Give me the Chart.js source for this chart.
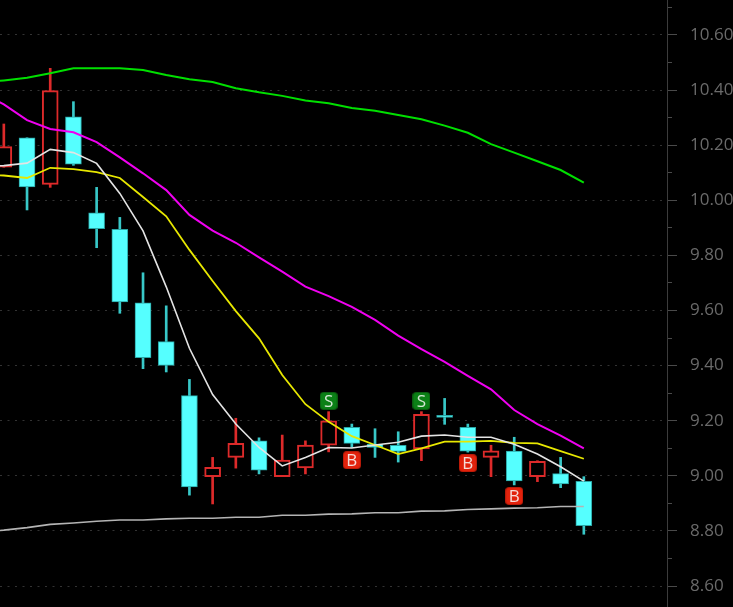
<!DOCTYPE html>
<html>
<head>
<meta charset="utf-8">
<title>Candlestick chart</title>
<script src="https://cdn.jsdelivr.net/npm/chart.js@4"></script>
<style>
  html, body { margin: 0; padding: 0; background: #000; overflow: hidden; }
  #wrap { position: relative; width: 733px; height: 607px; }
</style>
</head>
<body>
<div id="wrap"><canvas id="priceChart"></canvas></div>
<script>
// Candles, oldest first. The first one is cut off by the left edge.
const opens  = [10.12, 10.227, 10.058, 10.303, 9.955, 9.895, 9.628, 9.487, 9.291, 8.997, 9.067, 9.127, 8.997, 9.029, 9.111, 9.176, 9.115, 9.111, 9.098, 9.22, 9.176, 9.067, 9.09, 8.997, 9.008, 8.98];
const closes = [10.195, 10.049, 10.398, 10.131, 9.897, 9.631, 9.429, 9.401, 8.96, 9.031, 9.118, 9.021, 9.057, 9.112, 9.2, 9.118, 9.103, 9.089, 9.223, 9.212, 9.09, 9.091, 8.982, 9.053, 8.971, 8.819];
const highs  = [10.277, 10.227, 10.479, 10.358, 10.047, 9.938, 9.737, 9.617, 9.35, 9.067, 9.209, 9.138, 9.148, 9.127, 9.233, 9.188, 9.171, 9.16, 9.233, 9.281, 9.188, 9.111, 9.14, 9.055, 9.067, 8.997];
const lows   = [10.12, 9.965, 10.047, 10.127, 9.828, 9.59, 9.389, 9.377, 8.93, 8.898, 9.028, 9.007, 8.997, 9.007, 9.087, 9.103, 9.067, 9.05, 9.055, 9.187, 9.086, 8.997, 8.967, 8.979, 8.957, 8.788];

// Moving averages, starting one bar before the first candle (off screen)
const maWhite   = [10.121, 10.126, 10.135, 10.185, 10.173, 10.134, 10.025, 9.889, 9.686, 9.463, 9.295, 9.188, 9.103, 9.036, 9.067, 9.103, 9.101, 9.112, 9.122, 9.144, 9.148, 9.14, 9.14, 9.115, 9.079, 9.033, 8.981];
const maYellow  = [10.095, 10.09, 10.081, 10.118, 10.113, 10.102, 10.081, 10.012, 9.942, 9.82, 9.707, 9.598, 9.499, 9.366, 9.26, 9.196, 9.144, 9.112, 9.079, 9.1, 9.124, 9.124, 9.127, 9.12, 9.118, 9.09, 9.062];
const maMagenta = [10.393, 10.348, 10.291, 10.259, 10.247, 10.211, 10.156, 10.098, 10.037, 9.947, 9.89, 9.846, 9.793, 9.741, 9.687, 9.652, 9.613, 9.566, 9.509, 9.46, 9.414, 9.363, 9.314, 9.239, 9.188, 9.146, 9.1];
const maGreen   = [10.426, 10.435, 10.445, 10.461, 10.479, 10.479, 10.479, 10.473, 10.455, 10.439, 10.429, 10.407, 10.392, 10.379, 10.362, 10.352, 10.335, 10.325, 10.31, 10.294, 10.271, 10.245, 10.204, 10.173, 10.142, 10.11, 10.064];
const maGrey    = [8.796, 8.803, 8.812, 8.824, 8.829, 8.835, 8.84, 8.84, 8.844, 8.846, 8.846, 8.85, 8.85, 8.857, 8.857, 8.861, 8.862, 8.866, 8.866, 8.872, 8.873, 8.878, 8.88, 8.883, 8.884, 8.889, 8.889];

// Buy / sell flags
const sellBars   = [14, 18];
const sellPrices = [9.272, 9.272];
const buyBars    = [15, 20, 22];
const buyPrices  = [9.057, 9.046, 8.927];

const priceTicks = [8.5, 8.6, 8.7, 8.8, 8.9, 9.0, 9.1, 9.2, 9.3, 9.4, 9.5, 9.6, 9.7, 9.8, 9.9, 10.0, 10.1, 10.2, 10.3, 10.4, 10.5, 10.6, 10.7];

const RED = "#dd2a2a";
const CYAN = "#55ffff";
const isUp = i => closes[i] > opens[i];
const isMajor = v => Math.round(v * 10) % 2 === 0;

const maLine = (values, color, width) => ({
  type: "line",
  data: values.map((y, i) => ({ x: i - 1, y })),
  borderColor: color,
  borderWidth: width,
  pointRadius: 0,
  tension: 0,
  order: 1
});

// Small square badge used as the point image of a flag
function badge(edge, fill) {
  const cv = document.createElement("canvas");
  cv.width = cv.height = 18;
  const c = cv.getContext("2d");
  c.fillStyle = edge;
  c.beginPath();
  c.roundRect(0, 0, 18, 18, 4);
  c.fill();
  c.fillStyle = fill;
  c.beginPath();
  c.roundRect(1, 1, 16, 16, 3);
  c.fill();
  return cv;
}

const flag = (bars, prices, image, letter, letterColor) => ({
  type: "line",
  letter,
  letterColor,
  data: bars.map((x, i) => ({ x, y: prices[i] })),
  showLine: false,
  pointStyle: image,
  pointRadius: 9,
  order: 0
});

// Letters on the flags
const flagLetters = {
  id: "flagLetters",
  afterDatasetsDraw(chart) {
    const c = chart.ctx;
    c.save();
    c.font = "17px 'Open Sans'";
    c.textAlign = "center";
    c.textBaseline = "middle";
    chart.data.datasets.forEach((ds, n) => {
      if (!ds.letter) return;
      c.fillStyle = ds.letterColor;
      chart.getDatasetMeta(n).data.forEach(pt => c.fillText(ds.letter, pt.x, pt.y + 1));
    });
    c.restore();
  }
};

new Chart(document.getElementById("priceChart"), {
  type: "bar",
  plugins: [flagLetters],
  data: {
    datasets: [
      flag(sellBars, sellPrices, badge("#0a5c10", "#0b8016"), "S", "#d4e6d4"),
      flag(buyBars, buyPrices, badge("#b81a08", "#e2220c"), "B", "#f6dcd8"),
      maLine(maWhite, "#e4e4e4", 1.6),
      maLine(maYellow, "#e8e800", 1.8),
      maLine(maMagenta, "#f000f0", 2),
      maLine(maGreen, "#00e000", 2),
      maLine(maGrey, "#b4b4b4", 1.6),
      {
        // bodies
        data: opens.map((o, i) => ({ x: i, y: [o, closes[i]] })),
        barThickness: 16,
        grouped: false,
        borderSkipped: false,
        backgroundColor: opens.map((_, i) => isUp(i) ? "#000" : CYAN),
        borderColor: opens.map((_, i) => isUp(i) ? RED : "#2aa5a5"),
        borderWidth: opens.map((_, i) => isUp(i) ? 2 : 1),
        order: 2
      },
      {
        // wicks
        data: highs.map((h, i) => ({ x: i, y: [lows[i], h] })),
        barThickness: 2,
        grouped: false,
        borderSkipped: false,
        borderWidth: 0,
        backgroundColor: opens.map((_, i) => isUp(i) ? RED : "#38c8c8"),
        order: 3
      }
    ]
  },
  options: {
    responsive: true,
    maintainAspectRatio: false,
    animation: false,
    events: [],
    layout: { padding: 0, autoPadding: false },
    plugins: { legend: { display: false }, tooltip: { enabled: false } },
    scales: {
      x: {
        type: "linear",
        display: false,
        offset: false,
        min: -0.165,
        max: 28.585,
        grid: { display: false }
      },
      y: {
        position: "right",
        min: 8.524,
        max: 10.727,
        afterBuildTicks: axis => { axis.ticks = priceTicks.map(value => ({ value })); },
        afterFit: axis => {
          // chart area runs to the window edges, labels may hang over
          axis.width = 66;
          axis.paddingTop = 0;
          axis.paddingBottom = 0;
        },
        border: { display: true, color: "#3c3c3c", width: 1, dash: [2, 5.5] },
        grid: {
          color: ctx => isMajor(ctx.tick.value) ? "#333" : "transparent",
          lineWidth: 1,
          tickColor: "#4a4a4a",
          tickLength: 10,
          tickBorderDash: ctx => isMajor(ctx.tick.value) ? [] : [4, 20]
        },
        ticks: {
          autoSkip: false,
          padding: 13,
          color: "#6a6a6a",
          font: { family: "'Open Sans'", size: 17 },
          callback: v => isMajor(v) ? v.toFixed(2) : ""
        }
      }
    }
  }
});
</script>
</body>
</html>
